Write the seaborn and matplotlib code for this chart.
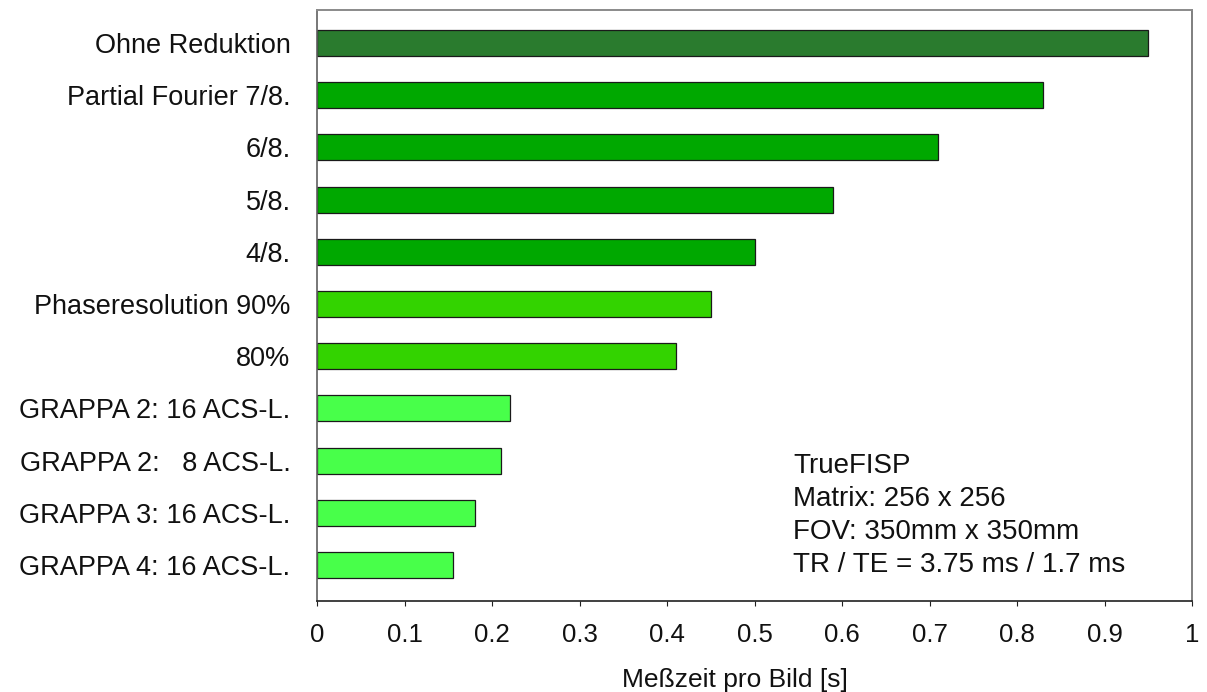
import matplotlib
matplotlib.use("Agg")
import matplotlib.pyplot as plt
import seaborn as sns
import pandas as pd

# Measurement time per image for each acceleration technique
categories = [
    "Ohne Reduktion",
    "Partial Fourier 7/8.",
    "6/8.",
    "5/8.",
    "4/8.",
    "Phaseresolution 90%",
    "80%",
    "GRAPPA 2: 16 ACS-L.",
    "GRAPPA 2:   8 ACS-L.",
    "GRAPPA 3: 16 ACS-L.",
    "GRAPPA 4: 16 ACS-L.",
]
times = [0.95, 0.83, 0.71, 0.59, 0.50, 0.45, 0.41, 0.22, 0.21, 0.18, 0.155]
bar_colors = [
    "#2A7B2E",
    "#00A800", "#00A800", "#00A800", "#00A800",
    "#33D300", "#33D300",
    "#48FF4A", "#48FF4A", "#48FF4A", "#48FF4A",
]
xticks = [0, 0.1, 0.2, 0.3, 0.4, 0.5, 0.6, 0.7, 0.8, 0.9, 1.0]
xtick_labels = ["0", "0.1", "0.2", "0.3", "0.4", "0.5", "0.6", "0.7", "0.8", "0.9", "1"]
info_lines = [
    "TrueFISP",
    "Matrix: 256 x 256",
    "FOV: 350mm x 350mm",
    "TR / TE = 3.75 ms / 1.7 ms",
]

sns.set_theme(style="white")
plt.rcParams["font.family"] = ["Liberation Sans", "DejaVu Sans"]
plt.rcParams["text.color"] = "#111111"
plt.rcParams["axes.labelcolor"] = "#111111"
plt.rcParams["xtick.color"] = "#111111"
plt.rcParams["ytick.color"] = "#111111"

df = pd.DataFrame({"label": categories, "time": times})

fig = plt.figure(figsize=(12.07, 6.92), dpi=100)
ax = fig.add_axes([317 / 1207, 91 / 692, 875 / 1207, 591 / 692])

sns.barplot(
    data=df, x="time", y="label", hue="label",
    palette=dict(zip(categories, bar_colors)), saturation=1,
    order=categories, hue_order=categories,
    width=0.5, edgecolor="#1a1a1a", linewidth=0.9,
    legend=False, ax=ax, orient="h",
)

ax.set_xlim(0, 1)
ax.set_ylim(10.69, -0.632)
ax.set_xticks(xticks)
ax.set_xticklabels(xtick_labels)
ax.tick_params(axis="x", which="both", bottom=True, length=3.5, width=0.8,
               color="#202020", labelsize=18.5, pad=12)
ax.tick_params(axis="y", length=0, labelsize=19.5, pad=19)
ax.set_ylabel("")
ax.set_xlabel("Meßzeit pro Bild [s]", fontsize=19)
ax.xaxis.set_label_coords(0.478, -0.113)

for side, col, lw in [("left", "#606060", 1.2), ("bottom", "#202020", 1.2),
                      ("top", "#8a8a8a", 1.4), ("right", "#6a6a6a", 1.2)]:
    ax.spines[side].set_visible(True)
    ax.spines[side].set_color(col)
    ax.spines[side].set_linewidth(lw)

for i, line in enumerate(info_lines):
    ax.text(0.544, (601 - (473 + 33 * i)) / 591, line, transform=ax.transAxes,
            fontsize=20, va="baseline", ha="left")

fig.savefig("out.png", dpi=100, facecolor="white")
